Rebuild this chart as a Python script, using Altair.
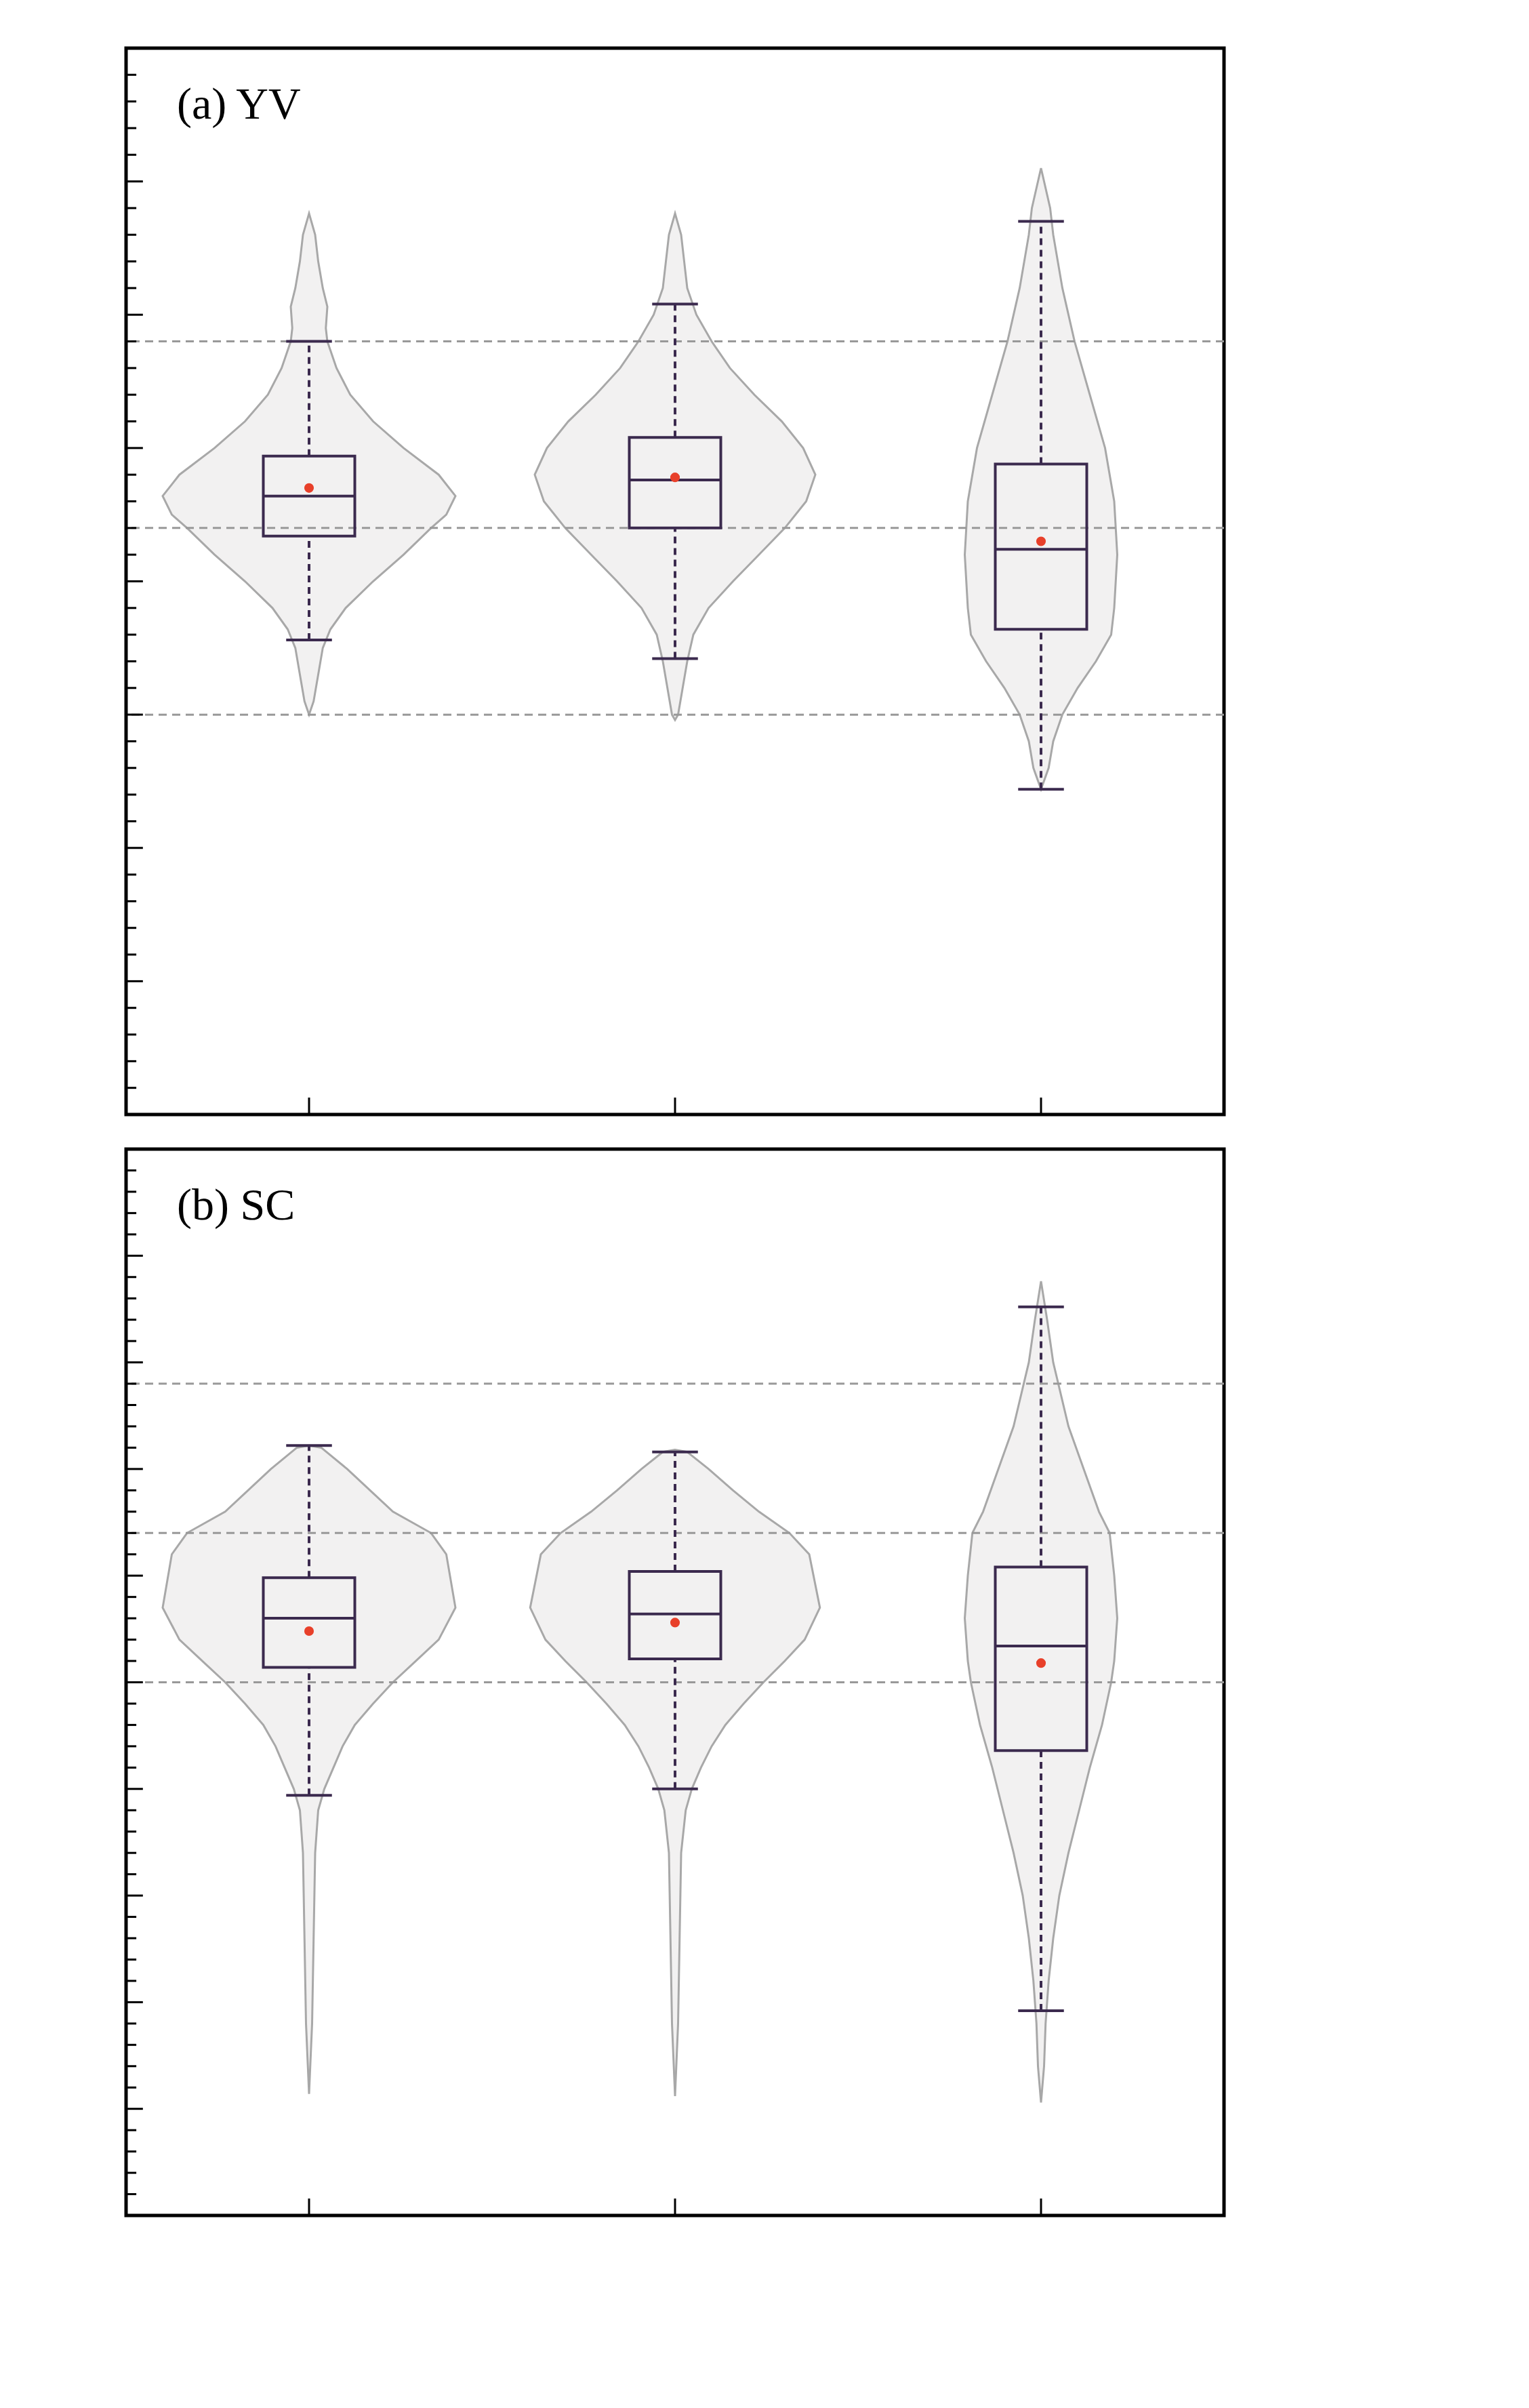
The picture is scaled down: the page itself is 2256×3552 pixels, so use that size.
import altair as alt
import pandas as pd

cats = ["All", "nonTC", "TC"]
FONT = "Liberation Serif"
BOXC = "#3b2a4e"

# box stats: whisker low, Q1, median, Q3, whisker high, mean
stats_a = [[2.8, 6.7, 8.2, 9.7, 14.0, 8.5],
           [2.1, 7.0, 8.8, 10.4, 15.4, 8.9],
           [-2.8, 3.2, 6.2, 9.4, 18.5, 6.5]]
stats_b = [[-5.3, 0.7, 3.0, 4.9, 11.1, 2.4],
           [-5.0, 1.1, 3.2, 5.2, 10.8, 2.8],
           [-15.4, -3.2, 1.7, 5.4, 17.6, 0.9]]

# violin outlines: (value, half-width in px of 240-px category spacing)
vio_a_all = [(18.8,0),(18,4),(17,6),(16,9),(15.3,12),(14.5,11),(14,12),(13,18),(12,27),(11,42),(10,62),(9,85),(8.2,96),(7.5,90),(7,80),(6,62),(5,42),(4,24),(3.2,14),(2.5,9),(1.5,6),(0.5,3),(0,0)]
vio_a_non = [(18.8,0),(18,4),(17,6),(16,8),(15,14),(14,24),(13,36),(12,52),(11,70),(10,84),(9,92),(8,86),(7,72),(6,55),(5,38),(4,22),(3,12),(2,8),(1,5),(0,2),(-0.2,0)]
vio_a_tc = [(20.5,0),(19,6),(18,8),(16,14),(14,22),(12,32),(10,42),(8,48),(6,50),(4,48),(3,46),(2,36),(1,24),(0,14),(-1,8),(-2,5),(-2.8,0)]
vio_b_all = [(11.1,0),(11,8),(10,25),(9,40),(8,55),(7,80),(6,90),(3.5,96),(2,85),(1,70),(0,55),(-1,42),(-2,30),(-3,22),(-4,16),(-5,10),(-6,6),(-8,4),(-12,3),(-16,2),(-19.3,0)]
vio_b_non = [(10.9,0),(10.8,8),(10,22),(9,38),(8,55),(7,75),(6,88),(3.5,95),(2,85),(1,72),(0,58),(-1,45),(-2,33),(-3,24),(-4,17),(-5,11),(-6,7),(-8,4),(-12,3),(-16,2),(-19.4,0)]
vio_b_tc = [(18.8,0),(17,4),(15,8),(12,18),(10,28),(8,38),(7,45),(5,48),(3,50),(1,48),(0,46),(-2,40),(-4,32),(-6,25),(-8,18),(-10,12),(-12,8),(-14,5),(-16,3),(-18,2),(-19.7,0)]

W, H = 1620, 1573
XS = alt.Scale(domain=[-0.5, 2.5], nice=False, zero=False)


def panel(stats, violins, dom, label, label_y):
    YS = alt.Scale(domain=dom, nice=False, zero=False)
    x_axis = alt.Axis(values=[0, 1, 2], labelExpr="['All','nonTC','TC'][datum.value]",
                      ticks=False, domain=False, grid=False, labelFontSize=66, labelFont=FONT,
                      labelColor="black", labelPadding=12, labelLimit=0, title=None)
    y_axis = alt.Axis(values=list(range(dom[0], dom[1] + 1, 5)), ticks=False, domain=False,
                      grid=False, labelFontSize=66, labelFont=FONT, labelColor="black", labelPadding=26,
                      title="r/(%·°C⁻¹)", titleFontSize=66, titleFont=FONT, titleFontWeight="normal",
                      titleColor="black", titlePadding=30)
    layers = []
    for i, v in enumerate(violins):
        vdf = pd.DataFrame([{"y": y, "lo": i - w / 240, "hi": i + w / 240} for (y, w) in v]).sort_values("y")
        layers.append(alt.Chart(vdf).mark_area(orient="horizontal", fill="#f2f1f1", stroke="#a8a8a8",
                                               strokeWidth=3).encode(
            x=alt.X("lo:Q", scale=XS, axis=x_axis if i == 0 else None),
            x2="hi:Q",
            y=alt.Y("y:Q", scale=YS, axis=y_axis if i == 0 else None)))
    srows = []
    for i, s in enumerate(stats):
        srows.append({"c": i, "wl": s[0], "q1": s[1], "med": s[2], "q3": s[3], "wh": s[4], "mean": s[5],
                      "bl": i - 0.125, "br": i + 0.125, "cl": i - 0.0625, "cr": i + 0.0625})
    sdf = pd.DataFrame(srows)
    refs = alt.Chart(pd.DataFrame({"r": [0, 7, 14]})).mark_rule(color="#999999", strokeDash=[12, 8], strokeWidth=3).encode(
        y=alt.Y("r:Q", scale=YS))
    base = alt.Chart(sdf)
    wl = base.mark_rule(color=BOXC, strokeDash=[10, 7], strokeWidth=4).encode(
        x=alt.X("c:Q", scale=XS), y=alt.Y("wl:Q", scale=YS), y2="q1:Q")
    wh = base.mark_rule(color=BOXC, strokeDash=[10, 7], strokeWidth=4).encode(
        x=alt.X("c:Q", scale=XS), y=alt.Y("q3:Q", scale=YS), y2="wh:Q")
    box = base.mark_rect(fillOpacity=0, stroke=BOXC, strokeWidth=4).encode(
        x=alt.X("bl:Q", scale=XS), x2="br:Q", y=alt.Y("q1:Q", scale=YS), y2="q3:Q")
    med = base.mark_rule(color=BOXC, strokeWidth=4).encode(
        x=alt.X("bl:Q", scale=XS), x2="br:Q", y=alt.Y("med:Q", scale=YS))
    capl = base.mark_rule(color=BOXC, strokeWidth=4).encode(
        x=alt.X("cl:Q", scale=XS), x2="cr:Q", y=alt.Y("wl:Q", scale=YS))
    caph = base.mark_rule(color=BOXC, strokeWidth=4).encode(
        x=alt.X("cl:Q", scale=XS), x2="cr:Q", y=alt.Y("wh:Q", scale=YS))
    mean = base.mark_circle(color="#e8402a", opacity=1, size=200).encode(
        x=alt.X("c:Q", scale=XS), y=alt.Y("mean:Q", scale=YS))
    trows = [{"t": t, "x0": -0.5, "x1": -0.5 + (0.046 if t % 5 == 0 else 0.028)} for t in range(dom[0], dom[1] + 1)]
    ticks = alt.Chart(pd.DataFrame(trows)).mark_rule(color="black", strokeWidth=3).encode(
        x=alt.X("x0:Q", scale=XS), x2="x1:Q", y=alt.Y("t:Q", scale=YS))
    xt = alt.Chart(pd.DataFrame({"c": [0, 1, 2], "b": [dom[0]] * 3, "t": [dom[0] + 25 / H * (dom[1] - dom[0])] * 3})).mark_rule(
        color="black", strokeWidth=3).encode(x=alt.X("c:Q", scale=XS), y=alt.Y("b:Q", scale=YS), y2="t:Q")
    lab = alt.Chart(pd.DataFrame({"x": [-0.361], "y": [label_y], "t": [label]})).mark_text(
        align="left", baseline="alphabetic", fontSize=66, font=FONT, color="black").encode(
        x=alt.X("x:Q", scale=XS), y=alt.Y("y:Q", scale=YS), text="t:N")
    return alt.layer(*layers, refs, wl, wh, box, med, capl, caph, mean, ticks, xt, lab).properties(width=W, height=H)


pa = panel(stats_a, [vio_a_all, vio_a_non, vio_a_tc], [-15, 25], "(a) YV", 22.35)
pb = panel(stats_b, [vio_b_all, vio_b_non, vio_b_tc], [-25, 25], "(b) SC", 21.7)

chart = alt.vconcat(pa, pb, spacing=43).properties(
    padding={"top": 59, "left": 174, "right": 20, "bottom": 20}, background="white"
).configure_view(stroke="black", strokeWidth=5)

chart.save("out.html", embed_options={"renderer": "svg", "actions": False})
